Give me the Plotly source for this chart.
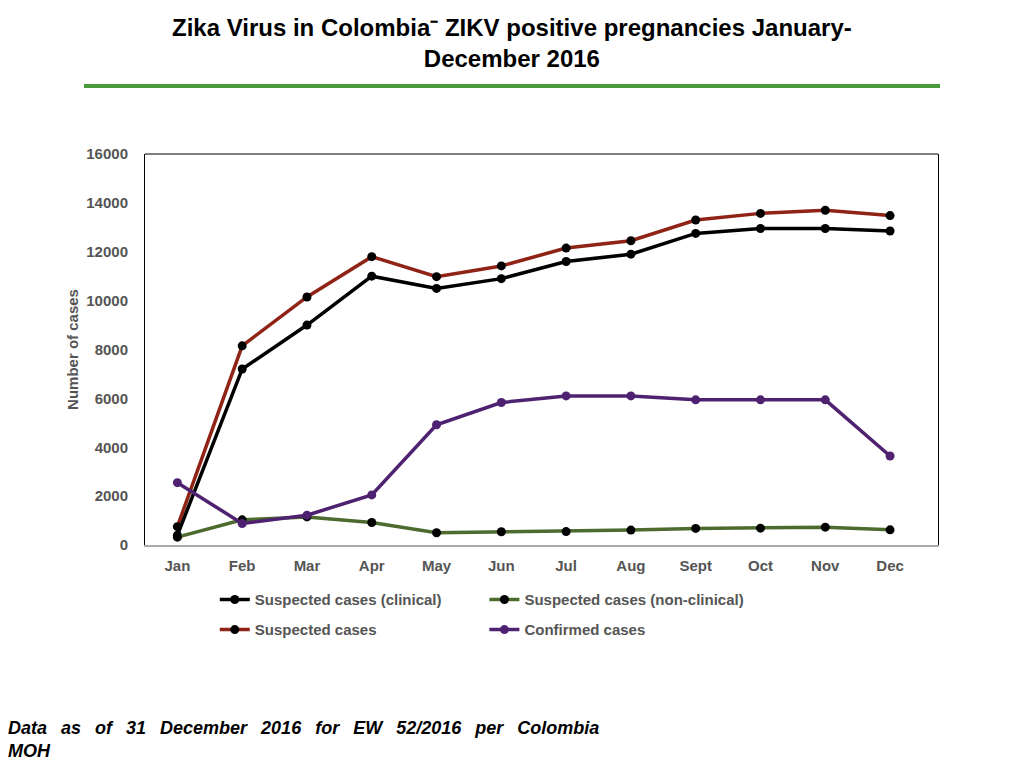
import plotly.graph_objects as go

# Monthly counts
months = ['Jan', 'Feb', 'Mar', 'Apr', 'May', 'Jun', 'Jul', 'Aug', 'Sept', 'Oct', 'Nov', 'Dec']
suspected = [750, 8150, 10150, 11800, 10980, 11420, 12150, 12450, 13300, 13570, 13700, 13480]
clinical = [400, 7200, 9000, 11000, 10500, 10900, 11600, 11900, 12750, 12950, 12950, 12850]
non_clinical = [320, 1030, 1150, 920, 500, 540, 550, 610, 680, 690, 730, 620]
confirmed = [2550, 880, 1220, 2050, 4920, 5830, 6100, 6100, 5940, 5940, 5940, 3640]
y_ticks = [0, 2000, 4000, 6000, 8000, 10000, 12000, 14000, 16000]

fig = go.Figure()

# (name, values, line colour, marker colour, legend)
series = [
    ('Suspected cases', suspected, '#8e2316', '#000000', 'legend2'),
    ('Suspected cases (clinical)', clinical, '#000000', '#000000', 'legend'),
    ('Suspected cases (non-clinical)', non_clinical, '#4d6b2e', '#000000', 'legend3'),
    ('Confirmed cases', confirmed, '#4e2270', '#4e2270', 'legend4'),
]
for name, vals, lc, mc, leg in series:
    fig.add_trace(go.Scatter(x=months, y=vals, name=name, mode='lines+markers',
                             line=dict(color=lc, width=3.5),
                             marker=dict(color=mc, size=9),
                             legend=leg))

leg_font = dict(family='Liberation Sans', size=15, color='#555555', weight='bold')
def leg(x, y):
    return dict(x=x, y=y, xanchor='left', yanchor='middle', font=leg_font,
                bgcolor='rgba(0,0,0,0)', itemwidth=30)

# page body has an 8px margin, so the figure is a bit smaller than the window
fig.update_layout(
    width=1008, height=752,
    margin=dict(l=137, r=78, t=146, b=215),
    paper_bgcolor='white', plot_bgcolor='white',
    showlegend=True,
    legend=leg(0.088, -0.14),
    legend2=leg(0.088, -0.217),
    legend3=leg(0.428, -0.14),
    legend4=leg(0.428, -0.217),
)

fig.update_xaxes(range=[-0.5, 11.74], showgrid=False, showline=True, linecolor='#aaaaaa', linewidth=2,
                 ticks='', ticklabelstandoff=6,
                 tickfont=dict(family='Liberation Sans', size=15, color='#555555', weight='bold'))
fig.update_yaxes(range=[0, 16000], tickvals=y_ticks, tickformat='d', showgrid=False, zeroline=False,
                 showline=True, linecolor='black', linewidth=1, mirror=True,
                 ticks='', ticklabelstandoff=13,
                 tickfont=dict(family='Liberation Sans', size=15, color='#555555', weight='bold'),
                 title=dict(text='Number of cases', standoff=4,
                            font=dict(family='Liberation Sans', size=15, color='#555555', weight='bold')))

# top border of plot box
fig.add_shape(type='line', xref='paper', yref='paper', x0=0, x1=1, y0=1, y1=1,
              line=dict(color='black', width=1))
# green rule under the title
fig.add_shape(type='line', xref='paper', yref='paper', x0=-0.077, x1=1.0025, y0=1.174, y1=1.174,
              line=dict(color='#4a9a3a', width=4))

fig.add_annotation(text='<b>Zika Virus in Colombia\u207b ZIKV positive pregnancies January-<br>December 2016</b>',
                   xref='paper', yref='paper', x=(512 - 145) / 793, y=1.284,
                   xanchor='center', yanchor='middle', showarrow=False,
                   font=dict(family='Liberation Sans', size=24, color='black'))

# the footnote is justified in the original, so widen the word gaps
foot = ' \u2002'.join('Data as of 31 December 2016 for EW 52/2016 per Colombia'.split(' '))
fig.add_annotation(text='<b><i>' + foot + '<br>MOH</i></b>',
                   xref='paper', yref='paper', x=-0.175, y=-0.437,
                   xanchor='left', yanchor='top', align='left', showarrow=False,
                   font=dict(family='Liberation Sans', size=18, color='black'))

fig.write_html('out.html')
